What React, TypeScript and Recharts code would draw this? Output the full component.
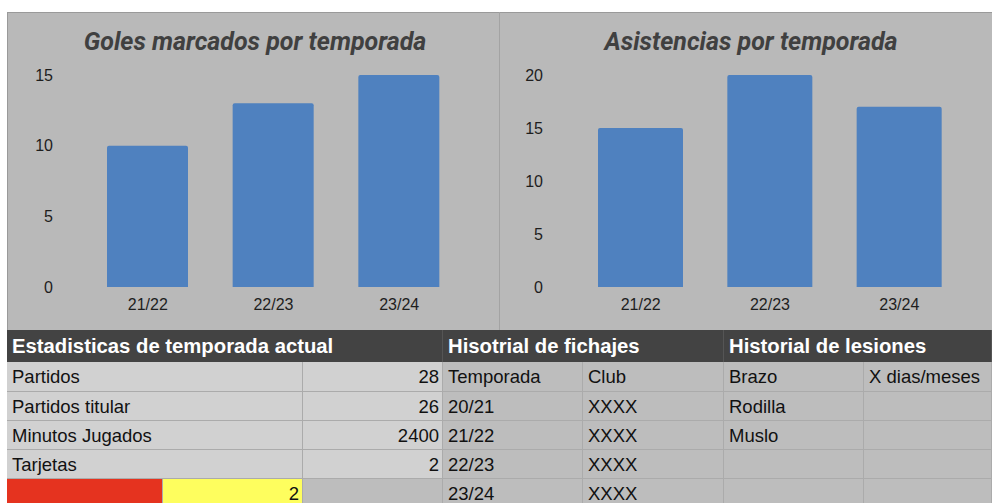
import React from 'react';
import { BarChart, Bar, XAxis, YAxis } from 'recharts';

const seasons = ['21/22', '22/23', '23/24'];
const goles = [10, 13, 15];
const asistencias = [15, 20, 17];
const golesTicks = [0, 5, 10, 15];
const asistTicks = [0, 5, 10, 15, 20];

const statLabels = ['Partidos', 'Partidos titular', 'Minutos Jugados', 'Tarjetas'];
const statValues = ['28', '26', '2400', '2'];
const tarjetasAmarillas = '2';
const fichajesSeasons = ['Temporada', '20/21', '21/22', '22/23', '23/24'];
const fichajesClubs = ['Club', 'XXXX', 'XXXX', 'XXXX', 'XXXX'];
const lesionesZona = ['Brazo', 'Rodilla', 'Muslo', '', ''];
const lesionesDuracion = ['X dias/meses', '', '', '', ''];
const headers = ['Estadisticas de temporada actual', 'Hisotrial de fichajes', 'Historial de lesiones'];

const golesData = seasons.map((s, i) => ({ season: s, value: goles[i] }));
const asistData = seasons.map((s, i) => ({ season: s, value: asistencias[i] }));

const FONT = '"Liberation Sans", Arial, sans-serif';
const TITLE_FONT = 'Roboto, "Liberation Sans", Arial, sans-serif';
const BAR = '#4f81bf';
const PANEL = '#b9b9b9';
const LIGHT = '#d1d1d1';
const GRAY = '#bdbdbd';
const LINE = '#ababab';

const colX = [7, 163, 303, 443, 583, 724, 864, 992];
const rowY = [362, 392, 421, 450, 479, 508];

type CellProps = {
  x0: number; x1: number; r: number; bg: string; text?: string; align?: 'left' | 'right';
};
const Cell = ({ x0, x1, r, bg, text, align = 'left' }: CellProps) => (
  <div
    style={{
      position: 'absolute', left: x0, top: rowY[r], width: x1 - x0, height: rowY[r + 1] - rowY[r],
      background: bg, boxSizing: 'border-box', borderRight: `1px solid ${LINE}`, borderBottom: `1px solid ${LINE}`,
      fontFamily: FONT, fontSize: 18.5, color: '#111', lineHeight: `${rowY[r + 1] - rowY[r]}px`,
      textAlign: align, paddingLeft: align === 'left' ? 5 : 0, paddingRight: align === 'right' ? 3 : 0,
      whiteSpace: 'nowrap', overflow: 'hidden',
    }}
  >
    {text}
  </div>
);

const tickStyle = { fill: '#1e1e1e', fontSize: 16, fontFamily: FONT };

const titleStyle: React.CSSProperties = {
  position: 'absolute', width: 440, top: 25, textAlign: 'center', fontFamily: TITLE_FONT, fontWeight: 'bold',
  fontStyle: 'italic', fontSize: 25, color: '#404040', lineHeight: '34px', whiteSpace: 'nowrap',
};

export default function App() {
  return (
    <div style={{ position: 'fixed', left: 0, top: 0, width: 992, height: 503, background: '#fff', overflow: 'hidden' }}>
      {/* chart panel */}
      <div style={{ position: 'absolute', left: 7, top: 12, width: 985, height: 318, background: PANEL, boxSizing: 'border-box', borderTop: '1px solid #9a9a9a', borderLeft: '1px solid #9a9a9a' }} />
      <div style={{ position: 'absolute', left: 499, top: 12, width: 1, height: 318, background: '#a3a3a3' }} />

      <div style={{ position: 'absolute', left: 7, top: 12 }}>
        <BarChart width={492} height={318} data={golesData} margin={{ top: 63, right: 37, left: 0, bottom: 0 }}>
          <XAxis dataKey="season" axisLine={false} tickLine={false} tickSize={0} tickMargin={12} height={43} tick={tickStyle} interval={0} />
          <YAxis domain={[0, 15]} ticks={golesTicks} axisLine={false} tickLine={false} tickSize={0} tickMargin={32} width={78} tick={tickStyle} />
          <Bar dataKey="value" fill={BAR} barSize={81} radius={[2, 2, 0, 0]} isAnimationActive={false} />
        </BarChart>
      </div>
      <div style={{ position: 'absolute', left: 499, top: 12 }}>
        <BarChart width={493} height={318} data={asistData} margin={{ top: 63, right: 28, left: 0, bottom: 0 }}>
          <XAxis dataKey="season" axisLine={false} tickLine={false} tickSize={0} tickMargin={12} height={43} tick={tickStyle} interval={0} />
          <YAxis domain={[0, 20]} ticks={asistTicks} axisLine={false} tickLine={false} tickSize={0} tickMargin={33} width={77} tick={tickStyle} />
          <Bar dataKey="value" fill={BAR} barSize={85} radius={[2, 2, 0, 0]} isAnimationActive={false} />
        </BarChart>
      </div>

      <div style={{ ...titleStyle, left: 35 }}>Goles marcados por temporada</div>
      <div style={{ ...titleStyle, left: 531 }}>Asistencias por temporada</div>

      {/* header row */}
      <div style={{ position: 'absolute', left: 7, top: 330, width: 985, height: 32, background: '#434343' }} />
      {[[7, 443], [443, 724], [724, 992]].map(([a, b], i) => (
        <div key={i} style={{ position: 'absolute', left: a, top: 330, width: b - a, height: 32, boxSizing: 'border-box', borderRight: '1px solid #555', paddingLeft: 5, fontFamily: FONT, fontWeight: 'bold', fontSize: 20.3, color: '#fff', lineHeight: '32px', whiteSpace: 'nowrap' }}>
          {headers[i]}
        </div>
      ))}

      {/* rows */}
      {[0, 1, 2, 3, 4].map((r) => (
        <React.Fragment key={r}>
          {r < 4 ? (
            <>
              <Cell x0={colX[0]} x1={colX[2]} r={r} bg={LIGHT} text={statLabels[r]} />
              <Cell x0={colX[2]} x1={colX[3]} r={r} bg={LIGHT} text={statValues[r]} align="right" />
            </>
          ) : (
            <>
              <Cell x0={colX[0]} x1={colX[1]} r={r} bg="#e5331f" />
              <Cell x0={colX[1]} x1={colX[2]} r={r} bg="#fefe5e" text={tarjetasAmarillas} align="right" />
              <Cell x0={colX[2]} x1={colX[3]} r={r} bg={GRAY} />
            </>
          )}
          <Cell x0={colX[3]} x1={colX[4]} r={r} bg={GRAY} text={fichajesSeasons[r]} />
          <Cell x0={colX[4]} x1={colX[5]} r={r} bg={GRAY} text={fichajesClubs[r]} />
          <Cell x0={colX[5]} x1={colX[6]} r={r} bg={GRAY} text={lesionesZona[r]} />
          <Cell x0={colX[6]} x1={colX[7]} r={r} bg={GRAY} text={lesionesDuracion[r]} />
        </React.Fragment>
      ))}
    </div>
  );
}
